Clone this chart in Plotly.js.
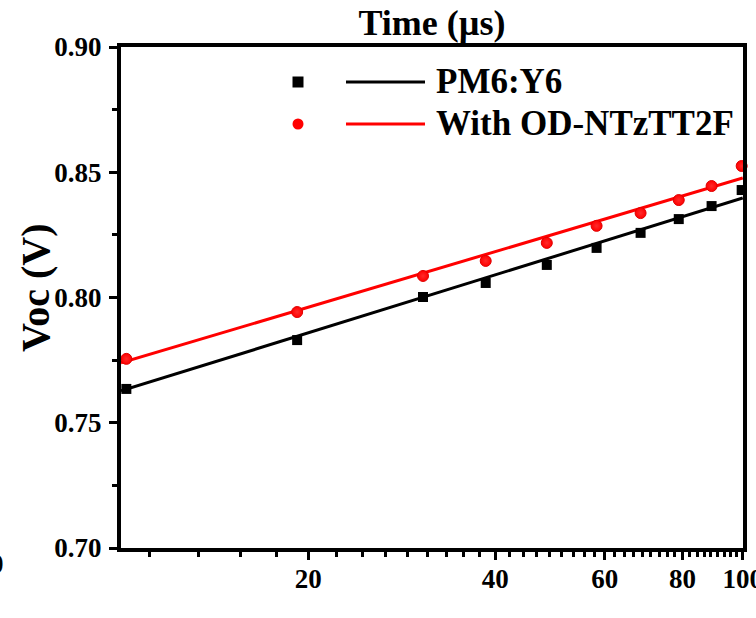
<!DOCTYPE html>
<html>
<head>
<meta charset="utf-8">
<script src="https://cdn.plot.ly/plotly-3.0.1.min.js"></script>
<style>html,body{margin:0;padding:0;background:#fff;}#chart{width:756px;height:618px;}</style>
</head>
<body>
<div id="chart"></div>
<script>
// ---- data ----
const timeUs = [10.2, 19.2, 30.6, 38.6, 48.4, 58.2, 68.5, 78.9, 89.1, 99.6];
const vocPM6Y6 = [0.7635, 0.7830, 0.8002, 0.8058, 0.8130, 0.8198, 0.8258, 0.8313, 0.8365, 0.8429];
const vocOD = [0.7755, 0.7942, 0.8086, 0.8146, 0.8218, 0.8286, 0.8337, 0.8389, 0.8445, 0.8525];
const fitTime = [10, 100];
const fitPM6Y6 = [0.7627, 0.8397];
const fitOD = [0.7739, 0.8477];
const seriesNames = ['PM6:Y6', 'With OD-NTzTT2F'];
const xTickVals = [20, 40, 60, 80, 100];
const xTickText = ['20', '40', '60', '80', '100'];
const yTickVals = [0.70, 0.75, 0.80, 0.85, 0.90];
const yTickText = ['0.70', '0.75', '0.80', '0.85', '0.90'];

const FONT = 'Liberation Serif, Times New Roman, serif';
const BLACK = '#000000', RED = '#ff0000';

// minor x ticks: 8 between each major step of 20 (Origin style)
const xMinor = [];
for (let k = 1; k <= 45; k++) { const v = k * 20 / 9; if (v > 10 && v < 100 && Math.abs(v / 20 - Math.round(v / 20)) > 1e-6) xMinor.push(v); }

const traces = [
  {x: fitTime, y: fitPM6Y6, mode: 'lines', line: {color: BLACK, width: 3}, showlegend: false, hoverinfo: 'skip'},
  {x: fitTime, y: fitOD, mode: 'lines', line: {color: RED, width: 3}, showlegend: false, hoverinfo: 'skip'},
  {x: timeUs, y: vocPM6Y6, mode: 'markers', name: seriesNames[0], cliponaxis: false,
   marker: {symbol: 'square', size: 10, color: BLACK}, showlegend: false},
  {x: timeUs, y: vocOD, mode: 'markers', name: seriesNames[1], cliponaxis: false,
   marker: {symbol: 'circle', size: 11, color: RED, line: {color: '#e00000', width: 1},
            gradient: {type: 'radial', color: '#ff2a2a'}}, showlegend: false}
];

// legend built from shapes + annotations (Origin style: marker, gap, line, text)
const pxX = p => (p - 121) / 622;
const pxY = p => (548 - p) / 501;
const legendRows = [
  {y: 82, color: BLACK, symbol: 'rect', half: 5.5, text: seriesNames[0]},
  {y: 124, color: RED, symbol: 'circle', half: 5.5, text: seriesNames[1]}
];
const shapes = [];
const annotations = [];
legendRows.forEach(r => {
  shapes.push({type: r.symbol, xref: 'paper', yref: 'paper', xsizemode: 'pixel', ysizemode: 'pixel',
    xanchor: pxX(298), yanchor: pxY(r.y), x0: -r.half, x1: r.half, y0: -r.half, y1: r.half,
    fillcolor: r.color, line: {color: r.color, width: 0}});
  shapes.push({type: 'line', xref: 'paper', yref: 'paper', x0: pxX(346), x1: pxX(425), y0: pxY(r.y), y1: pxY(r.y),
    line: {color: r.color, width: 3}});
  annotations.push({xref: 'paper', yref: 'paper', x: pxX(434), y: pxY(r.y), xanchor: 'left', yanchor: 'middle',
    text: r.text, showarrow: false, font: {family: FONT, size: 35, color: BLACK, weight: 700}});
});
annotations.push({xref: 'paper', yref: 'paper', x: pxX(35), y: pxY(288), text: 'Voc (V)', textangle: -90,
  showarrow: false, xanchor: 'center', yanchor: 'middle', font: {family: FONT, size: 40, color: BLACK, weight: 700}});
// clipped fragments of neighbouring text at the picture edges
annotations.push({xref: 'paper', yref: 'paper', x: pxX(6), y: pxY(564), xanchor: 'right', yanchor: 'middle',
  text: '0', showarrow: false, font: {family: FONT, size: 27, color: BLACK, weight: 700}});
annotations.push({xref: 'paper', yref: 'paper', x: pxX(610), y: pxY(626), xanchor: 'center', yanchor: 'middle',
  text: '2', showarrow: false, font: {family: FONT, size: 20, color: BLACK, weight: 700}});

const axisFont = {family: FONT, size: 27, color: BLACK, weight: 700};
const layout = {
  width: 756, height: 618,
  margin: {l: 121, r: 13, t: 47, b: 70, pad: 0},
  paper_bgcolor: '#ffffff', plot_bgcolor: '#ffffff',
  showlegend: false,
  title: {text: 'Time (µs)', x: 0.5, xref: 'paper', xanchor: 'center', y: 1 - 22 / 618, yanchor: 'middle',
          font: {family: FONT, size: 36, color: BLACK, weight: 700}},
  xaxis: {type: 'log', range: [1, 2.0004], showgrid: false, zeroline: false,
    showline: true, linecolor: BLACK, linewidth: 4, mirror: true,
    ticks: 'outside', ticklen: 8, tickwidth: 3, tickcolor: BLACK,
    tickmode: 'array', tickvals: xTickVals, ticktext: xTickText, tickfont: axisFont, ticklabelstandoff: -4,
    ticklabeloverflow: 'allow',
    minor: {tickmode: 'array', tickvals: xMinor, ticks: 'outside', ticklen: 5, tickwidth: 3, tickcolor: BLACK, showgrid: false},
    fixedrange: true},
  yaxis: {range: [0.70, 0.90], showgrid: false, zeroline: false,
    showline: true, linecolor: BLACK, linewidth: 4, mirror: true,
    ticks: 'outside', ticklen: 8, tickwidth: 3, tickcolor: BLACK,
    tickmode: 'array', tickvals: yTickVals, ticktext: yTickText, tickfont: axisFont, ticklabelstandoff: 2,
    minor: {dtick: 0.025, tick0: 0.70, ticks: 'outside', ticklen: 5, tickwidth: 3, tickcolor: BLACK, showgrid: false},
    fixedrange: true},
  shapes: shapes,
  annotations: annotations
};

Plotly.newPlot('chart', traces, layout, {displayModeBar: false, staticPlot: true});
</script>
</body>
</html>
